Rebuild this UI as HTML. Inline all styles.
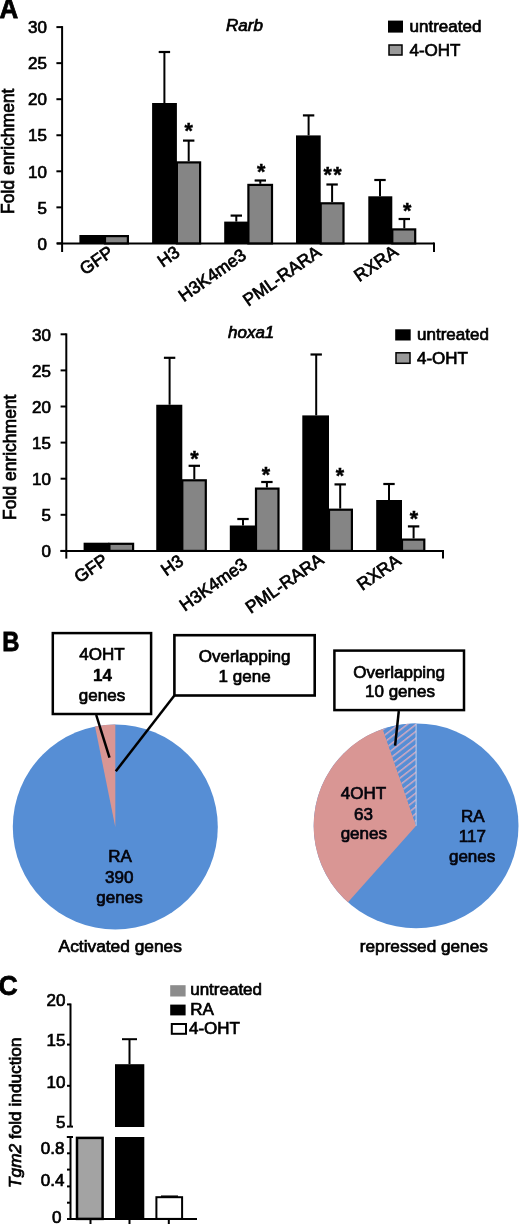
<!DOCTYPE html><html><head><meta charset="utf-8"><style>html,body{margin:0;padding:0;background:#fff;}svg{display:block;will-change:transform;}text{font-family:"Liberation Sans", sans-serif;}</style></head><body>
<svg width="520" height="1224" viewBox="0 0 520 1224">
<defs><pattern id="hatch" patternUnits="userSpaceOnUse" width="5.4" height="5.4" patternTransform="rotate(-38)"><rect width="5.4" height="5.4" fill="#568ed5"/><rect width="5.4" height="1.5" fill="#cfa9c2"/></pattern></defs>
<text x="-0.5" y="17.5" font-size="27" text-anchor="start" font-weight="bold" font-style="normal" fill="#000" stroke="#000" stroke-width="0.8" textLength="18.7" lengthAdjust="spacingAndGlyphs">A</text>
<text x="2.3" y="650.6" font-size="27" text-anchor="start" font-weight="bold" font-style="normal" fill="#000" stroke="#000" stroke-width="0.8" textLength="17.2" lengthAdjust="spacingAndGlyphs">B</text>
<text x="-1.5" y="995.4" font-size="27.5" text-anchor="start" font-weight="bold" font-style="normal" fill="#000" stroke="#000" stroke-width="0.8" textLength="19.2" lengthAdjust="spacingAndGlyphs">C</text>
<line x1="62.1" y1="26.1" x2="62.1" y2="252" stroke="#000" stroke-width="2"/>
<line x1="56.4" y1="243.4" x2="62.1" y2="243.4" stroke="#000" stroke-width="2"/>
<text x="47" y="249.6" font-size="17" text-anchor="end" font-weight="normal" font-style="normal" fill="#000" stroke="#000" stroke-width="0.7">0</text>
<line x1="56.4" y1="207.35000000000002" x2="62.1" y2="207.35000000000002" stroke="#000" stroke-width="2"/>
<text x="47" y="213.55" font-size="17" text-anchor="end" font-weight="normal" font-style="normal" fill="#000" stroke="#000" stroke-width="0.7">5</text>
<line x1="56.4" y1="171.3" x2="62.1" y2="171.3" stroke="#000" stroke-width="2"/>
<text x="47" y="177.5" font-size="17" text-anchor="end" font-weight="normal" font-style="normal" fill="#000" stroke="#000" stroke-width="0.7">10</text>
<line x1="56.4" y1="135.25" x2="62.1" y2="135.25" stroke="#000" stroke-width="2"/>
<text x="47" y="141.45" font-size="17" text-anchor="end" font-weight="normal" font-style="normal" fill="#000" stroke="#000" stroke-width="0.7">15</text>
<line x1="56.4" y1="99.20000000000002" x2="62.1" y2="99.20000000000002" stroke="#000" stroke-width="2"/>
<text x="47" y="105.40000000000002" font-size="17" text-anchor="end" font-weight="normal" font-style="normal" fill="#000" stroke="#000" stroke-width="0.7">20</text>
<line x1="56.4" y1="63.150000000000006" x2="62.1" y2="63.150000000000006" stroke="#000" stroke-width="2"/>
<text x="47" y="69.35000000000001" font-size="17" text-anchor="end" font-weight="normal" font-style="normal" fill="#000" stroke="#000" stroke-width="0.7">25</text>
<line x1="56.4" y1="27.100000000000023" x2="62.1" y2="27.100000000000023" stroke="#000" stroke-width="2"/>
<text x="47" y="33.300000000000026" font-size="17" text-anchor="end" font-weight="normal" font-style="normal" fill="#000" stroke="#000" stroke-width="0.7">30</text>
<line x1="57" y1="243.4" x2="434" y2="243.4" stroke="#000" stroke-width="2"/>
<line x1="434" y1="242.4" x2="434" y2="252" stroke="#000" stroke-width="2"/>
<rect x="79.4" y="235" width="25.599999999999994" height="8.400000000000006" fill="#000"/>
<rect x="105" y="236.1" width="22.9" height="7.300000000000006" fill="#858585" stroke="#000" stroke-width="2.2"/>
<rect x="152.1" y="103" width="24.80000000000001" height="140.4" fill="#000"/>
<rect x="176.9" y="162.4" width="23.19999999999998" height="81.0" fill="#858585" stroke="#000" stroke-width="2.2"/>
<line x1="164.4" y1="52" x2="164.4" y2="103" stroke="#000" stroke-width="2"/>
<line x1="158.70000000000002" y1="52" x2="170.1" y2="52" stroke="#000" stroke-width="2.2"/>
<line x1="188.7" y1="140.6" x2="188.7" y2="161.3" stroke="#000" stroke-width="2"/>
<line x1="183.0" y1="140.6" x2="194.39999999999998" y2="140.6" stroke="#000" stroke-width="2.2"/>
<rect x="224.2" y="221.6" width="24.200000000000017" height="21.80000000000001" fill="#000"/>
<rect x="248.4" y="184.9" width="23.600000000000016" height="58.49999999999999" fill="#858585" stroke="#000" stroke-width="2.2"/>
<line x1="236.3" y1="215.6" x2="236.3" y2="221.6" stroke="#000" stroke-width="2"/>
<line x1="230.60000000000002" y1="215.6" x2="242.0" y2="215.6" stroke="#000" stroke-width="2.2"/>
<line x1="260.3" y1="180.5" x2="260.3" y2="183.8" stroke="#000" stroke-width="2"/>
<line x1="254.60000000000002" y1="180.5" x2="266.0" y2="180.5" stroke="#000" stroke-width="2.2"/>
<rect x="296" y="135.4" width="24.69999999999999" height="108.0" fill="#000"/>
<rect x="320.7" y="203.29999999999998" width="22.800000000000033" height="40.100000000000016" fill="#858585" stroke="#000" stroke-width="2.2"/>
<line x1="308.6" y1="115.4" x2="308.6" y2="135.4" stroke="#000" stroke-width="2"/>
<line x1="302.90000000000003" y1="115.4" x2="314.3" y2="115.4" stroke="#000" stroke-width="2.2"/>
<line x1="332.1" y1="184.5" x2="332.1" y2="202.2" stroke="#000" stroke-width="2"/>
<line x1="326.40000000000003" y1="184.5" x2="337.8" y2="184.5" stroke="#000" stroke-width="2.2"/>
<rect x="368.3" y="196.3" width="24.0" height="47.099999999999994" fill="#000"/>
<rect x="392.3" y="229.4" width="22.9" height="13.999999999999995" fill="#858585" stroke="#000" stroke-width="2.2"/>
<line x1="380" y1="180" x2="380" y2="196.3" stroke="#000" stroke-width="2"/>
<line x1="374.3" y1="180" x2="385.7" y2="180" stroke="#000" stroke-width="2.2"/>
<line x1="404.3" y1="219" x2="404.3" y2="228.3" stroke="#000" stroke-width="2"/>
<line x1="398.6" y1="219" x2="410.0" y2="219" stroke="#000" stroke-width="2.2"/>
<text x="188.7" y="137.7" font-size="21.5" text-anchor="middle" font-weight="bold" font-style="normal" fill="#000" stroke="#000" stroke-width="0.45">*</text>
<text x="261.2" y="179.4" font-size="21.5" text-anchor="middle" font-weight="bold" font-style="normal" fill="#000" stroke="#000" stroke-width="0.45">*</text>
<text x="327.6" y="182.0" font-size="21.5" text-anchor="middle" font-weight="bold" font-style="normal" fill="#000" stroke="#000" stroke-width="0.45">*</text>
<text x="337.4" y="182.0" font-size="21.5" text-anchor="middle" font-weight="bold" font-style="normal" fill="#000" stroke="#000" stroke-width="0.45">*</text>
<text x="407.2" y="217.70000000000002" font-size="21.5" text-anchor="middle" font-weight="bold" font-style="normal" fill="#000" stroke="#000" stroke-width="0.45">*</text>
<text x="226" y="31" font-size="17" text-anchor="start" font-weight="normal" font-style="italic" fill="#000" stroke="#000" stroke-width="0.7">Rarb</text>
<rect x="388" y="20.6" width="15" height="12" fill="#000"/>
<text x="409.5" y="32.2" font-size="17" text-anchor="start" font-weight="normal" font-style="normal" fill="#000" stroke="#000" stroke-width="0.7">untreated</text>
<rect x="389" y="45" width="13" height="10" fill="#999" stroke="#000" stroke-width="1.5"/>
<text x="409.5" y="55.5" font-size="17" text-anchor="start" font-weight="normal" font-style="normal" fill="#000" stroke="#000" stroke-width="0.7">4-OHT</text>
<line x1="66.3" y1="333.4" x2="66.3" y2="558.6" stroke="#000" stroke-width="2"/>
<line x1="60.599999999999994" y1="550.9" x2="66.3" y2="550.9" stroke="#000" stroke-width="2"/>
<text x="51" y="557.1" font-size="17" text-anchor="end" font-weight="normal" font-style="normal" fill="#000" stroke="#000" stroke-width="0.7">0</text>
<line x1="60.599999999999994" y1="514.8" x2="66.3" y2="514.8" stroke="#000" stroke-width="2"/>
<text x="51" y="521.0" font-size="17" text-anchor="end" font-weight="normal" font-style="normal" fill="#000" stroke="#000" stroke-width="0.7">5</text>
<line x1="60.599999999999994" y1="478.7" x2="66.3" y2="478.7" stroke="#000" stroke-width="2"/>
<text x="51" y="484.9" font-size="17" text-anchor="end" font-weight="normal" font-style="normal" fill="#000" stroke="#000" stroke-width="0.7">10</text>
<line x1="60.599999999999994" y1="442.59999999999997" x2="66.3" y2="442.59999999999997" stroke="#000" stroke-width="2"/>
<text x="51" y="448.79999999999995" font-size="17" text-anchor="end" font-weight="normal" font-style="normal" fill="#000" stroke="#000" stroke-width="0.7">15</text>
<line x1="60.599999999999994" y1="406.5" x2="66.3" y2="406.5" stroke="#000" stroke-width="2"/>
<text x="51" y="412.7" font-size="17" text-anchor="end" font-weight="normal" font-style="normal" fill="#000" stroke="#000" stroke-width="0.7">20</text>
<line x1="60.599999999999994" y1="370.4" x2="66.3" y2="370.4" stroke="#000" stroke-width="2"/>
<text x="51" y="376.59999999999997" font-size="17" text-anchor="end" font-weight="normal" font-style="normal" fill="#000" stroke="#000" stroke-width="0.7">25</text>
<line x1="60.599999999999994" y1="334.29999999999995" x2="66.3" y2="334.29999999999995" stroke="#000" stroke-width="2"/>
<text x="51" y="340.49999999999994" font-size="17" text-anchor="end" font-weight="normal" font-style="normal" fill="#000" stroke="#000" stroke-width="0.7">30</text>
<line x1="60.4" y1="550.9" x2="443" y2="550.9" stroke="#000" stroke-width="2"/>
<line x1="443" y1="549.9" x2="443" y2="558.6" stroke="#000" stroke-width="2"/>
<rect x="83.6" y="542.7" width="25.80000000000001" height="8.199999999999932" fill="#000"/>
<rect x="109.4" y="543.8000000000001" width="23.69999999999998" height="7.099999999999932" fill="#858585" stroke="#000" stroke-width="2.2"/>
<rect x="156.25" y="404.75" width="26.05000000000001" height="146.14999999999998" fill="#000"/>
<rect x="182.3" y="480.3" width="23.499999999999993" height="70.6" fill="#858585" stroke="#000" stroke-width="2.2"/>
<line x1="169.6" y1="357.8" x2="169.6" y2="404.75" stroke="#000" stroke-width="2"/>
<line x1="163.9" y1="357.8" x2="175.29999999999998" y2="357.8" stroke="#000" stroke-width="2.2"/>
<line x1="194.3" y1="465.8" x2="194.3" y2="479.2" stroke="#000" stroke-width="2"/>
<line x1="188.60000000000002" y1="465.8" x2="200.0" y2="465.8" stroke="#000" stroke-width="2.2"/>
<rect x="229.8" y="525.5" width="26.19999999999999" height="25.399999999999977" fill="#000"/>
<rect x="256" y="488.6" width="22.50000000000002" height="62.299999999999976" fill="#858585" stroke="#000" stroke-width="2.2"/>
<line x1="243" y1="519" x2="243" y2="525.5" stroke="#000" stroke-width="2"/>
<line x1="237.3" y1="519" x2="248.7" y2="519" stroke="#000" stroke-width="2.2"/>
<line x1="266.9" y1="482" x2="266.9" y2="487.5" stroke="#000" stroke-width="2"/>
<line x1="261.2" y1="482" x2="272.59999999999997" y2="482" stroke="#000" stroke-width="2.2"/>
<rect x="302.3" y="415.4" width="26.69999999999999" height="135.5" fill="#000"/>
<rect x="329" y="509.70000000000005" width="22.9" height="41.19999999999995" fill="#858585" stroke="#000" stroke-width="2.2"/>
<line x1="316.2" y1="354.5" x2="316.2" y2="415.4" stroke="#000" stroke-width="2"/>
<line x1="310.5" y1="354.5" x2="321.9" y2="354.5" stroke="#000" stroke-width="2.2"/>
<line x1="340.2" y1="484.4" x2="340.2" y2="508.6" stroke="#000" stroke-width="2"/>
<line x1="334.5" y1="484.4" x2="345.9" y2="484.4" stroke="#000" stroke-width="2.2"/>
<rect x="376.2" y="500" width="25.80000000000001" height="50.89999999999998" fill="#000"/>
<rect x="402" y="539.6" width="22.299999999999976" height="11.299999999999978" fill="#858585" stroke="#000" stroke-width="2.2"/>
<line x1="389" y1="484" x2="389" y2="500" stroke="#000" stroke-width="2"/>
<line x1="383.3" y1="484" x2="394.7" y2="484" stroke="#000" stroke-width="2.2"/>
<line x1="413.6" y1="526.4" x2="413.6" y2="538.5" stroke="#000" stroke-width="2"/>
<line x1="407.90000000000003" y1="526.4" x2="419.3" y2="526.4" stroke="#000" stroke-width="2.2"/>
<text x="194.5" y="465.79999999999995" font-size="21.5" text-anchor="middle" font-weight="bold" font-style="normal" fill="#000" stroke="#000" stroke-width="0.45">*</text>
<text x="266" y="482.0" font-size="21.5" text-anchor="middle" font-weight="bold" font-style="normal" fill="#000" stroke="#000" stroke-width="0.45">*</text>
<text x="340" y="483.09999999999997" font-size="21.5" text-anchor="middle" font-weight="bold" font-style="normal" fill="#000" stroke="#000" stroke-width="0.45">*</text>
<text x="413.9" y="525.5" font-size="21.5" text-anchor="middle" font-weight="bold" font-style="normal" fill="#000" stroke="#000" stroke-width="0.45">*</text>
<text x="228" y="338" font-size="17" text-anchor="start" font-weight="normal" font-style="italic" fill="#000" stroke="#000" stroke-width="0.7">hoxa1</text>
<rect x="395.2" y="329.3" width="15.5" height="11.2" fill="#000"/>
<text x="417" y="340" font-size="17" text-anchor="start" font-weight="normal" font-style="normal" fill="#000" stroke="#000" stroke-width="0.7">untreated</text>
<rect x="396" y="352.8" width="14" height="10.5" fill="#999" stroke="#000" stroke-width="1.5"/>
<text x="417" y="364" font-size="17" text-anchor="start" font-weight="normal" font-style="normal" fill="#000" stroke="#000" stroke-width="0.7">4-OHT</text>
<text transform="translate(13.5,214) rotate(-90)" font-size="17.5" stroke="#000" stroke-width="0.7">Fold enrichment</text>
<text transform="translate(16,520) rotate(-90)" font-size="17.5" stroke="#000" stroke-width="0.7">Fold enrichment</text>
<text transform="translate(114.5,254.9) rotate(-35)" font-size="17.5" text-anchor="end" stroke="#000" stroke-width="0.7">GFP</text>
<text transform="translate(181,255) rotate(-35)" font-size="17.5" text-anchor="end" stroke="#000" stroke-width="0.7">H3</text>
<text transform="translate(247.5,257.7) rotate(-35)" font-size="17.5" text-anchor="end" stroke="#000" stroke-width="0.7">H3K4me3</text>
<text transform="translate(322.3,254.9) rotate(-35)" font-size="17.5" text-anchor="end" stroke="#000" stroke-width="0.7">PML-RARA</text>
<text transform="translate(399.2,254.3) rotate(-35)" font-size="17.5" text-anchor="end" stroke="#000" stroke-width="0.7">RXRA</text>
<text transform="translate(109,562.8) rotate(-35)" font-size="17.5" text-anchor="end" stroke="#000" stroke-width="0.7">GFP</text>
<text transform="translate(184.7,563.6) rotate(-35)" font-size="17.5" text-anchor="end" stroke="#000" stroke-width="0.7">H3</text>
<text transform="translate(248.6,567) rotate(-35)" font-size="17.5" text-anchor="end" stroke="#000" stroke-width="0.7">H3K4me3</text>
<text transform="translate(324.8,562.2) rotate(-35)" font-size="17.5" text-anchor="end" stroke="#000" stroke-width="0.7">PML-RARA</text>
<text transform="translate(402,563.2) rotate(-35)" font-size="17.5" text-anchor="end" stroke="#000" stroke-width="0.7">RXRA</text>
<circle cx="115.3" cy="827" r="102.5" fill="#568ed5"/>
<path d="M115.3,827 L95.04,726.52 A102.5,102.5 0 0 1 115.30,724.50 Z" fill="#d99694"/>
<circle cx="416.1" cy="825.8" r="102.4" fill="#568ed5"/>
<path d="M416.1,825.8 L347.98,902.26 A102.4,102.4 0 0 1 382.76,728.98 Z" fill="#d99694"/>
<path d="M416.1,825.8 L382.76,728.98 A102.4,102.4 0 0 1 416.10,723.40 Z" fill="url(#hatch)"/>
<line x1="416.1" y1="825.8" x2="416.1" y2="723.4" stroke="#c9d8f2" stroke-width="0.9"/>
<rect x="52.8" y="633.1" width="98.3" height="80.9" fill="#fff" stroke="#000" stroke-width="2.5"/>
<rect x="174.4" y="635.2" width="140.3" height="60.3" fill="#fff" stroke="#000" stroke-width="2.6"/>
<rect x="334.4" y="650.6" width="129.6" height="59.5" fill="#fff" stroke="#000" stroke-width="2.5"/>
<line x1="96.2" y1="715" x2="109.5" y2="757.7" stroke="#000" stroke-width="2.5"/>
<line x1="174.4" y1="695.5" x2="115.8" y2="771.2" stroke="#000" stroke-width="2.5"/>
<line x1="398.8" y1="711" x2="395.1" y2="745.6" stroke="#000" stroke-width="2.5"/>
<text x="102" y="660" font-size="17" text-anchor="middle" font-weight="normal" font-style="normal" fill="#000" stroke="#000" stroke-width="0.7">4OHT</text>
<text x="102.5" y="681" font-size="17" text-anchor="middle" font-weight="bold" font-style="normal" fill="#000" stroke="#000" stroke-width="0.4">14</text>
<text x="102" y="700.6" font-size="17" text-anchor="middle" font-weight="normal" font-style="normal" fill="#000" stroke="#000" stroke-width="0.7">genes</text>
<text x="244.6" y="661.5" font-size="17" text-anchor="middle" font-weight="normal" font-style="normal" fill="#000" stroke="#000" stroke-width="0.7">Overlapping</text>
<text x="244.6" y="681.5" font-size="17" text-anchor="middle" font-weight="normal" font-style="normal" fill="#000" stroke="#000" stroke-width="0.7">1 gene</text>
<text x="399.2" y="677.5" font-size="17" text-anchor="middle" font-weight="normal" font-style="normal" fill="#000" stroke="#000" stroke-width="0.7">Overlapping</text>
<text x="400" y="697" font-size="17" text-anchor="middle" font-weight="normal" font-style="normal" fill="#000" stroke="#000" stroke-width="0.7">10 genes</text>
<text x="120" y="862" font-size="17" text-anchor="middle" font-weight="normal" font-style="normal" fill="#05050d" stroke="#05050d" stroke-width="0.7">RA</text>
<text x="119.3" y="883.25" font-size="17" text-anchor="middle" font-weight="normal" font-style="normal" fill="#05050d" stroke="#05050d" stroke-width="0.7">390</text>
<text x="119.5" y="903.25" font-size="17" text-anchor="middle" font-weight="normal" font-style="normal" fill="#05050d" stroke="#05050d" stroke-width="0.7">genes</text>
<text x="363.5" y="798.8" font-size="17" text-anchor="middle" font-weight="normal" font-style="normal" fill="#05050d" stroke="#05050d" stroke-width="0.7">4OHT</text>
<text x="363.5" y="819.6" font-size="17" text-anchor="middle" font-weight="normal" font-style="normal" fill="#05050d" stroke="#05050d" stroke-width="0.7">63</text>
<text x="363.8" y="839.3" font-size="17" text-anchor="middle" font-weight="normal" font-style="normal" fill="#05050d" stroke="#05050d" stroke-width="0.7">genes</text>
<text x="472.7" y="821.5" font-size="17" text-anchor="middle" font-weight="normal" font-style="normal" fill="#05050d" stroke="#05050d" stroke-width="0.7">RA</text>
<text x="472.3" y="842.3" font-size="17" text-anchor="middle" font-weight="normal" font-style="normal" fill="#05050d" stroke="#05050d" stroke-width="0.7">117</text>
<text x="472.1" y="862.3" font-size="17" text-anchor="middle" font-weight="normal" font-style="normal" fill="#05050d" stroke="#05050d" stroke-width="0.7">genes</text>
<text x="58.6" y="952.1" font-size="17" text-anchor="start" font-weight="normal" font-style="normal" fill="#000" stroke="#000" stroke-width="0.7" textLength="123.3" lengthAdjust="spacingAndGlyphs">Activated genes</text>
<text x="359.8" y="952.2" font-size="17" text-anchor="start" font-weight="normal" font-style="normal" fill="#000" stroke="#000" stroke-width="0.7" textLength="128" lengthAdjust="spacingAndGlyphs">repressed genes</text>
<line x1="70.5" y1="1003.5" x2="70.5" y2="1126.6" stroke="#000" stroke-width="2"/>
<line x1="67" y1="1004.4" x2="70.5" y2="1004.4" stroke="#000" stroke-width="2"/>
<text x="65.5" y="1006.1999999999999" font-size="17" text-anchor="end" font-weight="normal" font-style="normal" fill="#000" stroke="#000" stroke-width="0.7">20</text>
<line x1="67" y1="1044.6" x2="70.5" y2="1044.6" stroke="#000" stroke-width="2"/>
<text x="65.5" y="1046.3999999999999" font-size="17" text-anchor="end" font-weight="normal" font-style="normal" fill="#000" stroke="#000" stroke-width="0.7">15</text>
<line x1="67" y1="1085.8" x2="70.5" y2="1085.8" stroke="#000" stroke-width="2"/>
<text x="65.5" y="1087.6" font-size="17" text-anchor="end" font-weight="normal" font-style="normal" fill="#000" stroke="#000" stroke-width="0.7">10</text>
<line x1="67" y1="1126.6" x2="70.5" y2="1126.6" stroke="#000" stroke-width="2"/>
<text x="65.5" y="1128.3999999999999" font-size="17" text-anchor="end" font-weight="normal" font-style="normal" fill="#000" stroke="#000" stroke-width="0.7">5</text>
<line x1="70.5" y1="1126.6" x2="73" y2="1126.6" stroke="#000" stroke-width="2"/>
<line x1="70.5" y1="1137" x2="70.5" y2="1219" stroke="#000" stroke-width="2"/>
<line x1="66.8" y1="1137" x2="73" y2="1137" stroke="#000" stroke-width="2"/>
<line x1="67" y1="1153.3" x2="70.5" y2="1153.3" stroke="#000" stroke-width="2"/>
<line x1="67" y1="1169.6" x2="70.5" y2="1169.6" stroke="#000" stroke-width="2"/>
<line x1="67" y1="1186.4" x2="70.5" y2="1186.4" stroke="#000" stroke-width="2"/>
<line x1="67" y1="1202.7" x2="70.5" y2="1202.7" stroke="#000" stroke-width="2"/>
<text x="64.5" y="1154.3" font-size="17" text-anchor="end" font-weight="normal" font-style="normal" fill="#000" stroke="#000" stroke-width="0.7">0.8</text>
<text x="64.5" y="1186.4" font-size="17" text-anchor="end" font-weight="normal" font-style="normal" fill="#000" stroke="#000" stroke-width="0.7">0.4</text>
<text x="61.5" y="1223.2" font-size="17" text-anchor="end" font-weight="normal" font-style="normal" fill="#000" stroke="#000" stroke-width="0.7">0</text>
<line x1="67" y1="1218.9" x2="197" y2="1218.9" stroke="#000" stroke-width="2"/>
<line x1="90.5" y1="1218.9" x2="90.5" y2="1225" stroke="#000" stroke-width="2"/>
<line x1="129.5" y1="1218.9" x2="129.5" y2="1225" stroke="#000" stroke-width="2"/>
<line x1="168.8" y1="1218.9" x2="168.8" y2="1225" stroke="#000" stroke-width="2"/>
<rect x="77" y="1137.9" width="25.6" height="81" fill="#a3a3a3" stroke="#000" stroke-width="2.5"/>
<rect x="115" y="1064.2" width="29.3" height="62.8" fill="#000"/>
<rect x="115" y="1137" width="29.3" height="82" fill="#000"/>
<line x1="129.5" y1="1039.2" x2="129.5" y2="1064.2" stroke="#000" stroke-width="2"/>
<line x1="122" y1="1039.2" x2="137" y2="1039.2" stroke="#000" stroke-width="2"/>
<rect x="156.4" y="1197.2" width="25.7" height="21.7" fill="#fff" stroke="#000" stroke-width="2"/>
<line x1="161" y1="1196.2" x2="178" y2="1196.2" stroke="#000" stroke-width="1.5"/>
<rect x="170.2" y="985.2" width="15.4" height="11.3" fill="#8c8c8c"/>
<text x="190.2" y="995.2" font-size="17" text-anchor="start" font-weight="normal" font-style="normal" fill="#000" stroke="#000" stroke-width="0.7">untreated</text>
<rect x="170.2" y="1004.6" width="15.4" height="10.8" fill="#000"/>
<text x="190.2" y="1015.4" font-size="17" text-anchor="start" font-weight="normal" font-style="normal" fill="#000" stroke="#000" stroke-width="0.7">RA</text>
<rect x="171.8" y="1024" width="14.2" height="9.8" fill="#fff" stroke="#000" stroke-width="2"/>
<text x="189" y="1034.2" font-size="17" text-anchor="start" font-weight="normal" font-style="normal" fill="#000" stroke="#000" stroke-width="0.7">4-OHT</text>
<text transform="translate(21.3,1188) rotate(-90)" font-size="17.25" stroke="#000" stroke-width="0.7"><tspan font-style="italic">Tgm2</tspan> fold induction</text>
</svg></body></html>
